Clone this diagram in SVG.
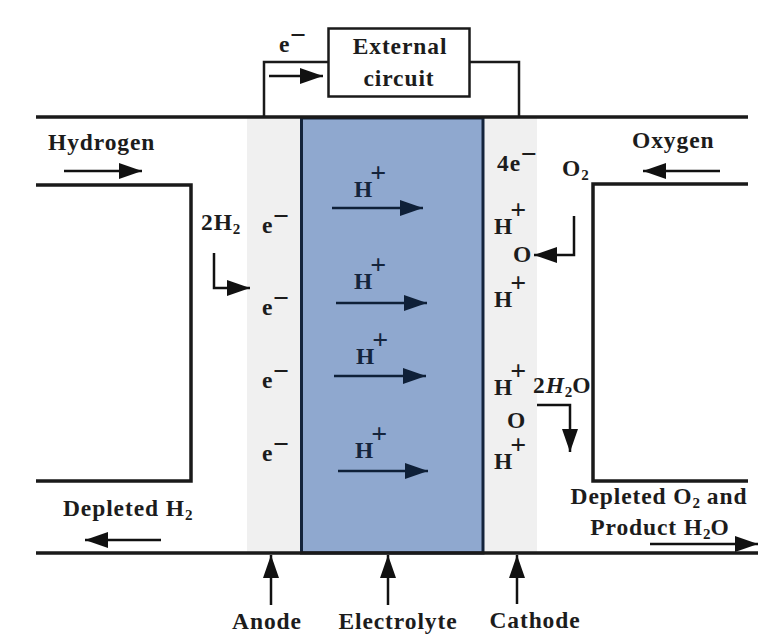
<svg xmlns="http://www.w3.org/2000/svg" width="764" height="640" viewBox="0 0 764 640">
<defs>
<style>
text{font-family:"Liberation Serif","Times New Roman",serif;font-weight:bold;fill:#1c1c1c;font-size:23.500px;letter-spacing:0.900px}
.s{font-size:15px;letter-spacing:0}
.c{text-anchor:middle}
.w{fill:none;stroke:#1a1a1a;stroke-width:3.500}
.t{fill:none;stroke:#1a1a1a;stroke-width:2.500}
.a{fill:none;stroke:#111;stroke-width:2.500;marker-end:url(#h)}
.b{fill:none;stroke:#0f2038;stroke-width:2.500;marker-end:url(#hb)}
.sup{font-size:28px;letter-spacing:0}
.blue{fill:#14243c}
</style>
<marker id="h" markerUnits="userSpaceOnUse" markerWidth="24" markerHeight="18" refX="23" refY="8" orient="auto"><path d="M0 0L23 8L0 16Z" fill="#111"/></marker>
<marker id="hb" markerUnits="userSpaceOnUse" markerWidth="24" markerHeight="18" refX="23" refY="8" orient="auto"><path d="M0 0L23 8L0 16Z" fill="#0f2038"/></marker>
</defs>
<rect width="764" height="640" fill="#fff"/>
<g id="anode"><rect x="247" y="118" width="54" height="435" fill="#f0f0f0"/><text x="267" y="629" class="c">Anode</text></g>
<g id="cathode"><rect x="484" y="118" width="53" height="435" fill="#f0f0f0"/><text x="535" y="628" class="c">Cathode</text></g>
<g id="electrolyte"><rect x="301.500" y="118" width="181.500" height="435" fill="#8fa8cf" stroke="#14243c" stroke-width="3"/><text x="398" y="629" class="c">Electrolyte</text></g>
<g id="external-circuit"><rect x="328.500" y="28.500" width="141" height="68" fill="#fff" stroke="#1a1a1a" stroke-width="2.500"/><text x="400" y="54" class="c">External</text><text x="399" y="86" class="c">circuit</text></g>
<g id="hydrogen-channel"><path class="w" d="M36 185H191V481H36"/><text x="48" y="150">Hydrogen</text><text x="63" y="516">Depleted H<tspan class="s" dy="4">2</tspan></text></g>
<g id="oxygen-channel"><path class="w" d="M748 184H593V481H748"/><text x="632" y="148">Oxygen</text><text x="659" y="504" class="c">Depleted O<tspan class="s" dy="4">2</tspan><tspan dy="-4"> and</tspan></text><text x="660" y="535" class="c">Product H<tspan class="s" dy="4">2</tspan><tspan dy="-4">O</tspan></text></g>
<g id="connectors">
<path class="w" d="M36 117H748M36 553H758"/>
<path class="t" d="M264 116V62H328M470 62H519V116"/>
<path class="a" d="M269 76H323"/>
<path class="a" d="M64 171H142"/>
<path class="a" d="M720 171H643"/>
<path class="a" d="M161 540H85"/>
<path class="a" d="M650 544H758"/>
<path class="a" d="M214 253V288H250"/>
<path class="a" d="M574 216V255H534"/>
<path class="a" d="M537 405H570V452"/>
<path class="b" d="M332 208H423"/>
<path class="b" d="M336 303H427"/>
<path class="b" d="M334 376H426"/>
<path class="b" d="M338 471H428"/>
<path class="a" d="M271 605V555"/>
<path class="a" d="M388 605V555"/>
<path class="a" d="M517 604V555"/>
</g>
<g id="labels">
<text x="279" y="52">e<tspan class="sup" dy="-8">−</tspan></text>
<text x="201" y="230">2H<tspan class="s" dy="4">2</tspan></text>
<text x="262" y="233">e<tspan class="sup" dy="-8">−</tspan></text>
<text x="262" y="315">e<tspan class="sup" dy="-8">−</tspan></text>
<text x="262" y="388">e<tspan class="sup" dy="-8">−</tspan></text>
<text x="262" y="461">e<tspan class="sup" dy="-8">−</tspan></text>
<text x="354" y="197" class="blue">H<tspan class="sup blue" dy="-15" dx="-3">+</tspan></text>
<text x="354" y="289" class="blue">H<tspan class="sup blue" dy="-15" dx="-3">+</tspan></text>
<text x="356" y="364" class="blue">H<tspan class="sup blue" dy="-15" dx="-3">+</tspan></text>
<text x="355" y="458" class="blue">H<tspan class="sup blue" dy="-15" dx="-3">+</tspan></text>
<text x="497" y="171">4e<tspan class="sup" dy="-8">−</tspan></text>
<text x="562" y="176">O<tspan class="s" dy="4">2</tspan></text>
<text x="494" y="234">H<tspan class="sup" dy="-15" dx="-3">+</tspan></text>
<text x="513" y="262">O</text>
<text x="494" y="307">H<tspan class="sup" dy="-15" dx="-3">+</tspan></text>
<text x="494" y="395">H<tspan class="sup" dy="-15" dx="-3">+</tspan></text>
<text x="533" y="393">2<tspan font-style="italic">H</tspan><tspan class="s" dy="4">2</tspan><tspan dy="-4">O</tspan></text>
<text x="507" y="428">O</text>
<text x="494" y="469">H<tspan class="sup" dy="-15" dx="-3">+</tspan></text>
</g>
</svg>
